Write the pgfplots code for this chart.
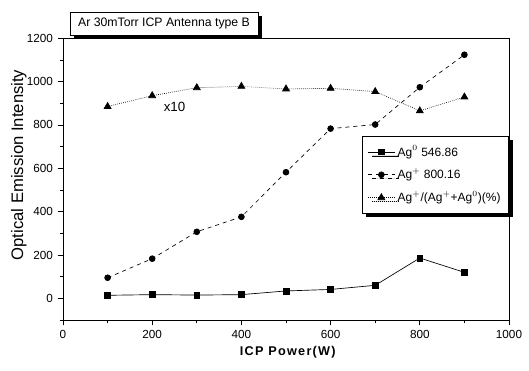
\documentclass[border=0pt]{standalone}
\usepackage{fontspec}
\setmainfont{Liberation Sans}
\usepackage{pgfplots}
\pgfplotsset{compat=1.18}
\usetikzlibrary{shadows}
\begin{document}
\begin{tikzpicture}
\path[use as bounding box] (-47.25pt,-38.25pt) rectangle (349.5pt,240pt);
\begin{axis}[
  scale only axis,
  width=334.5pt, height=211.3pt,
  xmin=0, xmax=1000, ymin=-100, ymax=1200,
  xtick={0,200,...,1000}, ytick={0,200,...,1200},
  minor xtick={100,300,...,900}, minor ytick={-100,100,...,1100},
  tick align=outside, xtick pos=left, ytick pos=left,
  major tick length=4pt, minor tick length=2.5pt,
  every tick/.style={black, line width=0.6pt},
  axis line style={line width=0.7pt},
  tick label style={font=\fontsize{8.8}{10}\selectfont},
  /pgf/number format/assume math mode=true,
  /pgf/number format/1000 sep={},
  xlabel={\addfontfeatures{LetterSpace=10}\bfseries ICP Power(W)},
  ylabel={Optical Emission Intensity},
  xlabel style={font=\fontsize{9.5}{11}\selectfont, at={(axis description cs:0.504,-0.114)}, anchor=center},
  ylabel style={font=\fontsize{12.5}{14}\selectfont, at={(axis description cs:-0.099,0.55)}, anchor=center},
  legend style={at={(rel axis cs:1,0.653)}, anchor=north east, draw=black, line width=0.6pt,
    fill=white, font=\fontsize{9}{10}\selectfont, cells={anchor=west},
    row sep=4pt, inner xsep=4pt, inner ysep=5pt,
    drop shadow={shadow xshift=3pt, shadow yshift=-3pt, fill=black, opacity=1}},
  legend image code/.code={\draw[mark repeat=2,mark phase=2,#1] plot coordinates {(0pt,0pt)(10pt,0pt)(20pt,0pt)};},
  clip=false,
]
\addplot[black, line width=0.5pt, mark=square*, mark size=2.2pt, mark options={solid}]
  coordinates {(100,14) (200,17) (300,15) (400,17) (500,34) (600,41) (700,60) (800,186) (900,120)};
\addlegendentry{Ag$^{0}$ 546.86}
\addplot[black, line width=0.5pt, dashed, mark=*, mark size=2.2pt, mark options={solid}]
  coordinates {(100,95) (200,183) (300,307) (400,376) (500,582) (600,783) (700,802) (800,974) (900,1124)};
\addlegendentry{Ag$^{+}$ 800.16}
\addplot[black, line width=0.5pt, densely dotted, mark=triangle*, mark size=3pt, mark options={solid}]
  coordinates {(100,885) (200,935) (300,972) (400,978) (500,966) (600,969) (700,954) (800,865) (900,929)};
\addlegendentry{Ag$^{+}$/(Ag$^{+}$+Ag$^{0}$)(\%)}
\node[font=\fontsize{10}{11}\selectfont] at (axis cs:250,885) {x10};
\node[draw=black, line width=0.6pt, fill=white, minimum width=141pt, minimum height=17.25pt,
  font=\fontsize{9.2}{10}\selectfont,
  drop shadow={shadow xshift=3pt, shadow yshift=-3pt, fill=black, opacity=1}]
  at (rel axis cs:0.2265,1.0525) {Ar 30mTorr ICP Antenna type B};
\end{axis}
\end{tikzpicture}
\end{document}
